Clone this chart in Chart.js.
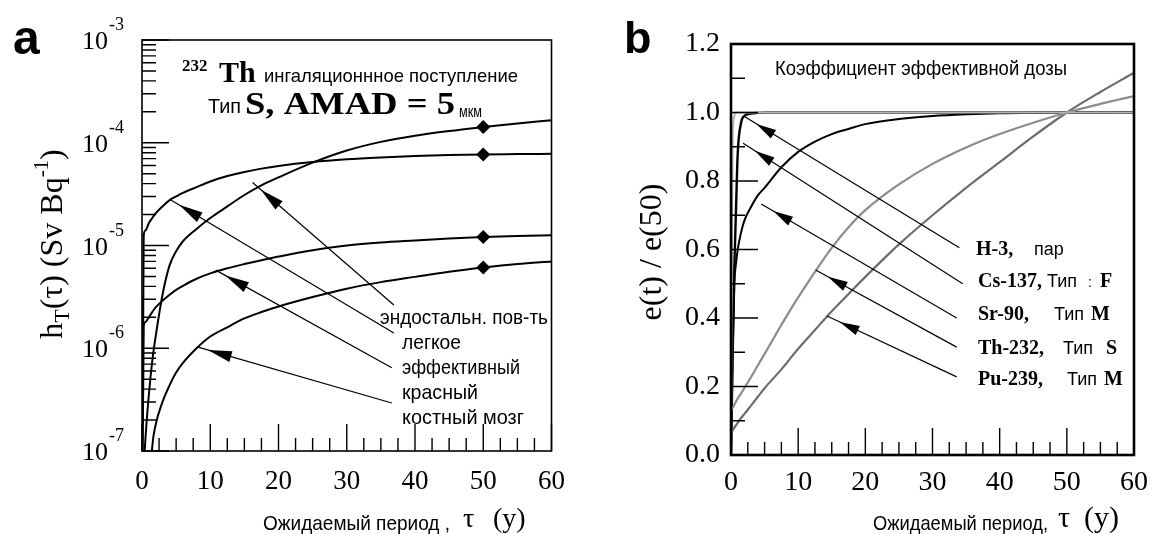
<!DOCTYPE html>
<html lang="ru">
<head>
<meta charset="utf-8">
<title>Коэффициенты дозы</title>
<script src="https://cdn.jsdelivr.net/npm/chart.js@4.4.1/dist/chart.umd.min.js"></script>
<style>
  html, body { margin: 0; padding: 0; background: #fff; }
  #wrap { position: relative; width: 1159px; height: 534px; }
  #wrap canvas { position: absolute; top: 0; }
  #doseA { left: 0; }
  #doseB { left: 580px; }
</style>
</head>
<body>
<div id="wrap">
  <canvas id="doseA" width="580" height="534"></canvas>
  <canvas id="doseB" width="579" height="534"></canvas>
</div>
<script>
const SERIF = '"Liberation Serif", "Times New Roman", serif';
const SANS = '"Liberation Sans", Arial, sans-serif';

// --- panel a: 232Th inhalation, organ dose coefficients h_T(tau), Sv/Bq
const tauA = [0, 0.25, 0.5, 1, 1.5, 2, 3, 4, 5, 6, 8, 10, 12.5, 15, 17.5, 20, 25, 30, 35, 40, 45, 50, 55, 60];
const hEndost = [1e-8, 6e-8, 1.3e-7, 3.5e-7, 7.5e-7, 1.3e-6, 3.3e-6, 6.3e-6, 8.8e-6, 1.1e-5, 1.45e-5, 1.85e-5, 2.4e-5, 3.1e-5, 3.85e-5, 4.6e-5, 6.4e-5, 8.4e-5, 1.02e-4, 1.17e-4, 1.30e-4, 1.42e-4, 1.54e-4, 1.66e-4];
const hLung = [1e-8, 1.25e-5, 1.4e-5, 1.65e-5, 1.85e-5, 2.05e-5, 2.4e-5, 2.75e-5, 3.0e-5, 3.25e-5, 3.7e-5, 4.2e-5, 4.75e-5, 5.2e-5, 5.6e-5, 5.95e-5, 6.5e-5, 6.9e-5, 7.2e-5, 7.45e-5, 7.6e-5, 7.7e-5, 7.75e-5, 7.8e-5];
const hEffective = [1e-8, 1.65e-6, 1.8e-6, 2.0e-6, 2.25e-6, 2.5e-6, 2.9e-6, 3.3e-6, 3.7e-6, 4.05e-6, 4.75e-6, 5.35e-6, 6.0e-6, 6.6e-6, 7.2e-6, 7.8e-6, 9.0e-6, 1.0e-5, 1.07e-5, 1.12e-5, 1.17e-5, 1.21e-5, 1.24e-5, 1.26e-5];
const hMarrow = [null, null, null, 3e-8, 1.1e-7, 1.8e-7, 3.0e-7, 4.3e-7, 5.8e-7, 7.2e-7, 1.0e-6, 1.3e-6, 1.6e-6, 1.95e-6, 2.25e-6, 2.55e-6, 3.15e-6, 3.8e-6, 4.4e-6, 4.95e-6, 5.55e-6, 6.1e-6, 6.6e-6, 7.0e-6];
const markTau = 50;
const decadesA = [-7, -6, -5, -4, -3];
const xTicks = [0, 10, 20, 30, 40, 50, 60];

// arrows: [tau, value] on the curve and at the label end
const arrowTipsA = [[16.2, 4.1e-5], [4.05, 2.82e-5], [10.8, 5.76e-6], [8.1, 1.03e-6]];
const arrowTailsA = [[36.9, 2.64e-6], [36.9, 1.41e-6], [36.6, 6.45e-7], [36.6, 2.93e-7]];

// --- panel b: e(t)/e(50)
const tauB = [0, 0.1, 0.25, 0.5, 0.75, 1, 1.5, 2, 3, 4, 5, 7.5, 10, 12.5, 15, 17.5, 20, 25, 30, 35, 40, 45, 50, 55, 60];
const eH3 = [0, 0.55, 0.93, 0.99, 1.0, 1.0, 1.0, 1.0, 1.0, 1.0, 1.0, 1.0, 1.0, 1.0, 1.0, 1.0, 1.0, 1.0, 1.0, 1.0, 1.0, 1.0, 1.0, 1.0, 1.0];
const eCs137 = [0, 0.12, 0.3, 0.55, 0.72, 0.88, 0.97, 0.99, 0.997, 0.999, 1.0, 1.0, 1.0, 1.0, 1.0, 1.0, 1.0, 1.0, 1.0, 1.0, 1.0, 1.0, 1.0, 1.0, 1.0];
const eSr90 = [0, 0.12, 0.3, 0.5, 0.56, 0.6, 0.65, 0.685, 0.725, 0.758, 0.78, 0.84, 0.885, 0.915, 0.937, 0.952, 0.966, 0.981, 0.99, 0.995, 0.998, 0.999, 1.0, 1.0, 1.001];
const eTh232 = [0.13, 0.133, 0.138, 0.147, 0.156, 0.165, 0.18, 0.196, 0.228, 0.262, 0.295, 0.38, 0.46, 0.535, 0.605, 0.665, 0.715, 0.79, 0.85, 0.898, 0.937, 0.97, 1.0, 1.025, 1.048];
const ePu239 = [0.065, 0.068, 0.072, 0.08, 0.087, 0.094, 0.108, 0.12, 0.145, 0.17, 0.195, 0.25, 0.31, 0.365, 0.42, 0.47, 0.52, 0.615, 0.7, 0.78, 0.855, 0.93, 1.0, 1.06, 1.116];
const yTicksB = [0, 0.2, 0.4, 0.6, 0.8, 1.0, 1.2];

const arrowTipsB = [[2.0, 0.988], [1.8, 0.91], [4.5, 0.733], [12.6, 0.54], [14.3, 0.406]];
const arrowTailsB = [[34.0, 0.605], [34.5, 0.50], [33.6, 0.40], [33.6, 0.315], [33.6, 0.228]];

const pts = (ts, vs) => ts.map((t, i) => ({ x: t, y: vs[i] }));

// text helpers
function put(ctx, s, x, y, font, w) {
  ctx.font = font;
  const nat = ctx.measureText(s).width;
  const k = w ? w / nat : 1;
  ctx.save();
  ctx.translate(x, y);
  ctx.scale(k, 1);
  ctx.fillText(s, 0, 0);
  ctx.restore();
  return nat * k;
}

function vTitle(ctx, parts, bx, cy) {
  let total = 0;
  parts.forEach(p => { ctx.font = p[1]; total += ctx.measureText(p[0]).width; });
  ctx.save();
  ctx.translate(bx, cy);
  ctx.rotate(-Math.PI / 2);
  let x = -total / 2;
  parts.forEach(p => {
    ctx.font = p[1];
    ctx.fillText(p[0], x, p[2] || 0);
    x += ctx.measureText(p[0]).width;
  });
  ctx.restore();
}

function arrow(ctx, x0, y0, x1, y1, len, half, gap) {
  ctx.beginPath();
  ctx.moveTo(x0, y0);
  ctx.lineTo(x1, y1);
  ctx.stroke();
  const a = Math.atan2(y1 - y0, x1 - x0);
  const c = Math.cos(a), s = Math.sin(a);
  const px = x1 - c * gap, py = y1 - s * gap;
  const bx = px - c * len, by = py - s * len;
  ctx.beginPath();
  ctx.moveTo(px, py);
  ctx.lineTo(bx + s * half, by - c * half);
  ctx.lineTo(bx - s * half, by + c * half);
  ctx.closePath();
  ctx.fill();
}

// inward tick marks + plot box
const frame = {
  id: 'frame',
  afterDatasetsDraw(chart, args, o) {
    const { ctx, chartArea: a, scales: { x, y } } = chart;
    ctx.save();
    ctx.strokeStyle = '#000';
    ctx.lineWidth = 1.4;
    ctx.beginPath();
    for (let t = 0; t <= 60; t += 2.5) {
      const px = x.getPixelForValue(t);
      const len = t % 10 === 0 ? 27 : 13;
      ctx.moveTo(px, a.bottom);
      ctx.lineTo(px, a.bottom - len);
    }
    o.yMarks().forEach(([v, major]) => {
      const py = y.getPixelForValue(v);
      ctx.moveTo(a.left, py);
      ctx.lineTo(a.left + (major ? 27 : 14), py);
    });
    ctx.stroke();
    ctx.lineWidth = o.box;
    ctx.strokeRect(a.left, a.top, a.width, a.height);
    ctx.restore();
  }
};

const noChrome = { legend: { display: false }, tooltip: { enabled: false } };

// ---------- panel a
const lineA = vals => ({
  data: pts(tauA, vals),
  borderColor: '#000',
  borderWidth: 2,
  cubicInterpolationMode: 'monotone',
  pointStyle: 'rectRot',
  pointRadius: c => (c.raw && c.raw.x === markTau ? 7 : 0),
  pointBackgroundColor: '#000',
  pointBorderWidth: 0
});

const textA = {
  id: 'textA',
  afterDatasetsDraw(chart) {
    const { ctx, scales: { x, y } } = chart;
    ctx.save();
    ctx.fillStyle = '#000';
    ctx.strokeStyle = '#000';
    ctx.lineWidth = 1.2;
    arrowTipsA.forEach((tip, i) => {
      const tail = arrowTailsA[i];
      arrow(ctx, x.getPixelForValue(tail[0]), y.getPixelForValue(tail[1]),
        x.getPixelForValue(tip[0]), y.getPixelForValue(tip[1]), 24, 5.5, 11);
    });
    ctx.restore();
  },
  afterDraw(chart) {
    const { ctx, scales: { y }, chartArea: a } = chart;
    ctx.save();
    ctx.fillStyle = '#000';
    ctx.textBaseline = 'alphabetic';
    ctx.textAlign = 'left';

    // log tick labels 10^n
    decadesA.forEach(e => {
      const py = y.getPixelForValue(10 ** e);
      ctx.font = `26px ${SERIF}`;
      const w = ctx.measureText('10').width;
      ctx.fillText('10', a.left - 34 - w, py + 9);
      ctx.font = `18px ${SERIF}`;
      ctx.fillText(String(e), a.left - 33, py - 10);
    });

    put(ctx, 'a', 13, 54, `bold 48px ${SANS}`);

    put(ctx, '232', 182, 71, `bold 17px ${SERIF}`);
    put(ctx, 'Th', 219, 82, `bold 30px ${SERIF}`);
    put(ctx, 'ингаляционнное поступление', 264, 82, `19px ${SANS}`, 254);
    put(ctx, 'Тип', 208, 113, `21px ${SANS}`, 33);
    put(ctx, 'S, AMAD = 5', 245, 114, `bold 31px ${SERIF}`, 210);
    put(ctx, 'мкм', 459, 117, `17px ${SANS}`, 23);

    put(ctx, 'эндостальн. пов-ть', 380, 324, `21px ${SANS}`, 168);
    put(ctx, 'легкое', 402, 349, `21px ${SANS}`, 59);
    put(ctx, 'эффективный', 402, 374, `21px ${SANS}`, 118);
    put(ctx, 'красный', 402, 399, `21px ${SANS}`, 76);
    put(ctx, 'костный мозг', 402, 424, `21px ${SANS}`, 122);

    put(ctx, 'Ожидаемый период ,', 263, 530, `21px ${SANS}`, 187);
    put(ctx, 'τ', 463, 527, `28px ${SERIF}`);
    put(ctx, '(y)', 493, 527, `28px ${SERIF}`);

    vTitle(ctx, [
      ['h', `32px ${SERIF}`],
      ['T', `22px ${SERIF}`, 7],
      ['(τ) (Sv Bq', `32px ${SERIF}`],
      ['-1', `21px ${SERIF}`, -14],
      [')', `32px ${SERIF}`]
    ], 62, 244);
    ctx.restore();
  }
};

new Chart(document.getElementById('doseA'), {
  type: 'line',
  data: { datasets: [lineA(hEndost), lineA(hLung), lineA(hEffective), lineA(hMarrow)] },
  options: {
    responsive: false,
    animation: false,
    devicePixelRatio: 1,
    layout: { padding: { top: 40, right: 27, left: 0, bottom: 0 } },
    plugins: {
      ...noChrome,
      frame: {
        box: 1.6,
        yMarks: () => {
          const out = [];
          decadesA.forEach(e => {
            out.push([10 ** e, true]);
            if (e < decadesA[decadesA.length - 1]) {
              for (let d = 2; d <= 9; d++) out.push([d * 10 ** e, false]);
            }
          });
          return out;
        }
      }
    },
    scales: {
      x: {
        type: 'linear', min: 0, max: 60,
        grid: { display: false, drawTicks: false },
        border: { display: false },
        ticks: { font: { family: SERIF, size: 27 }, color: '#000', padding: 15, maxRotation: 0, autoSkip: false },
        afterBuildTicks: s => { s.ticks = xTicks.map(v => ({ value: v })); },
        afterFit: s => { s.height = 83; }
      },
      y: {
        type: 'logarithmic', min: 1e-7, max: 1e-3,
        grid: { display: false, drawTicks: false },
        border: { display: false },
        ticks: { display: false },
        afterBuildTicks: s => { s.ticks = decadesA.map(e => ({ value: 10 ** e })); },
        afterFit: s => { s.width = 142; }
      }
    }
  },
  plugins: [frame, textA]
});

// ---------- panel b
const lineB = (vals, color, width) => ({
  data: pts(tauB, vals),
  borderColor: color,
  borderWidth: width,
  cubicInterpolationMode: 'monotone',
  pointRadius: 0
});

const textB = {
  id: 'textB',
  afterDatasetsDraw(chart) {
    const { ctx, scales: { x, y } } = chart;
    ctx.save();
    ctx.fillStyle = '#000';
    ctx.strokeStyle = '#000';
    ctx.lineWidth = 1.2;
    arrowTipsB.forEach((tip, i) => {
      const tail = arrowTailsB[i];
      arrow(ctx, x.getPixelForValue(tail[0]), y.getPixelForValue(tail[1]),
        x.getPixelForValue(tip[0]), y.getPixelForValue(tip[1]), 20, 5, 14);
    });
    ctx.restore();
  },
  afterDraw(chart) {
    const { ctx } = chart;
    ctx.save();
    ctx.fillStyle = '#000';
    ctx.textBaseline = 'alphabetic';
    ctx.textAlign = 'left';

    put(ctx, 'b', 44, 53, `bold 45px ${SANS}`);
    put(ctx, 'Коэффициент эффективной дозы', 195, 75, `21px ${SANS}`, 292);

    const bold = `bold 20px ${SERIF}`;
    const sans = `18px ${SANS}`;
    put(ctx, 'H-3,', 396, 255, bold);
    put(ctx, 'пар', 454, 255, sans);
    put(ctx, 'Cs-137,', 398, 287, bold);
    put(ctx, 'Тип', 467, 287, sans);
    put(ctx, ':', 508, 287, `14px ${SANS}`);
    put(ctx, 'F', 520, 287, bold);
    put(ctx, 'Sr-90,', 398, 320, bold);
    put(ctx, 'Тип', 474, 320, sans);
    put(ctx, 'M', 511, 320, bold);
    put(ctx, 'Th-232,', 398, 354, bold);
    put(ctx, 'Тип', 483, 354, sans);
    put(ctx, 'S', 526, 354, bold);
    put(ctx, 'Pu-239,', 398, 385, bold);
    put(ctx, 'Тип', 487, 385, sans);
    put(ctx, 'M', 524, 385, bold);

    put(ctx, 'Ожидаемый период,', 293, 530, `21px ${SANS}`, 175);
    put(ctx, 'τ', 478, 527, `30px ${SERIF}`);
    put(ctx, '(y)', 504, 527, `30px ${SERIF}`);

    vTitle(ctx, [['e(t) / e(50)', `32px ${SERIF}`]], 81, 252);
    ctx.restore();
  }
};

new Chart(document.getElementById('doseB'), {
  type: 'line',
  data: {
    datasets: [
      lineB(eH3, '#b4b4b4', 2),
      lineB(eTh232, '#8c8c8c', 2.2),
      lineB(ePu239, '#6c6c6c', 2.2),
      lineB(eSr90, '#000', 2),
      lineB(eCs137, '#000', 2.4)
    ]
  },
  options: {
    responsive: false,
    animation: false,
    devicePixelRatio: 1,
    layout: { padding: { top: 44, right: 16, left: 0, bottom: 0 } },
    plugins: {
      ...noChrome,
      frame: {
        box: 2.6,
        yMarks: () => {
          const out = [];
          for (let i = 0; i <= 12; i++) out.push([i / 10, i % 2 === 0]);
          return out;
        }
      }
    },
    scales: {
      x: {
        type: 'linear', min: 0, max: 60,
        grid: { display: false, drawTicks: false },
        border: { display: false },
        ticks: { font: { family: SERIF, size: 28 }, color: '#000', padding: 11, maxRotation: 0, autoSkip: false },
        afterBuildTicks: s => { s.ticks = xTicks.map(v => ({ value: v })); },
        afterFit: s => { s.height = 79; }
      },
      y: {
        type: 'linear', min: 0, max: 1.2,
        grid: { display: false, drawTicks: false },
        border: { display: false },
        ticks: {
          font: { family: SERIF, size: 28 }, color: '#000', padding: 11, autoSkip: false,
          callback: v => v.toFixed(1)
        },
        afterBuildTicks: s => { s.ticks = yTicksB.map(v => ({ value: v })); },
        afterFit: s => { s.width = 151; }
      }
    }
  },
  plugins: [frame, textB]
});
</script>
</body>
</html>
